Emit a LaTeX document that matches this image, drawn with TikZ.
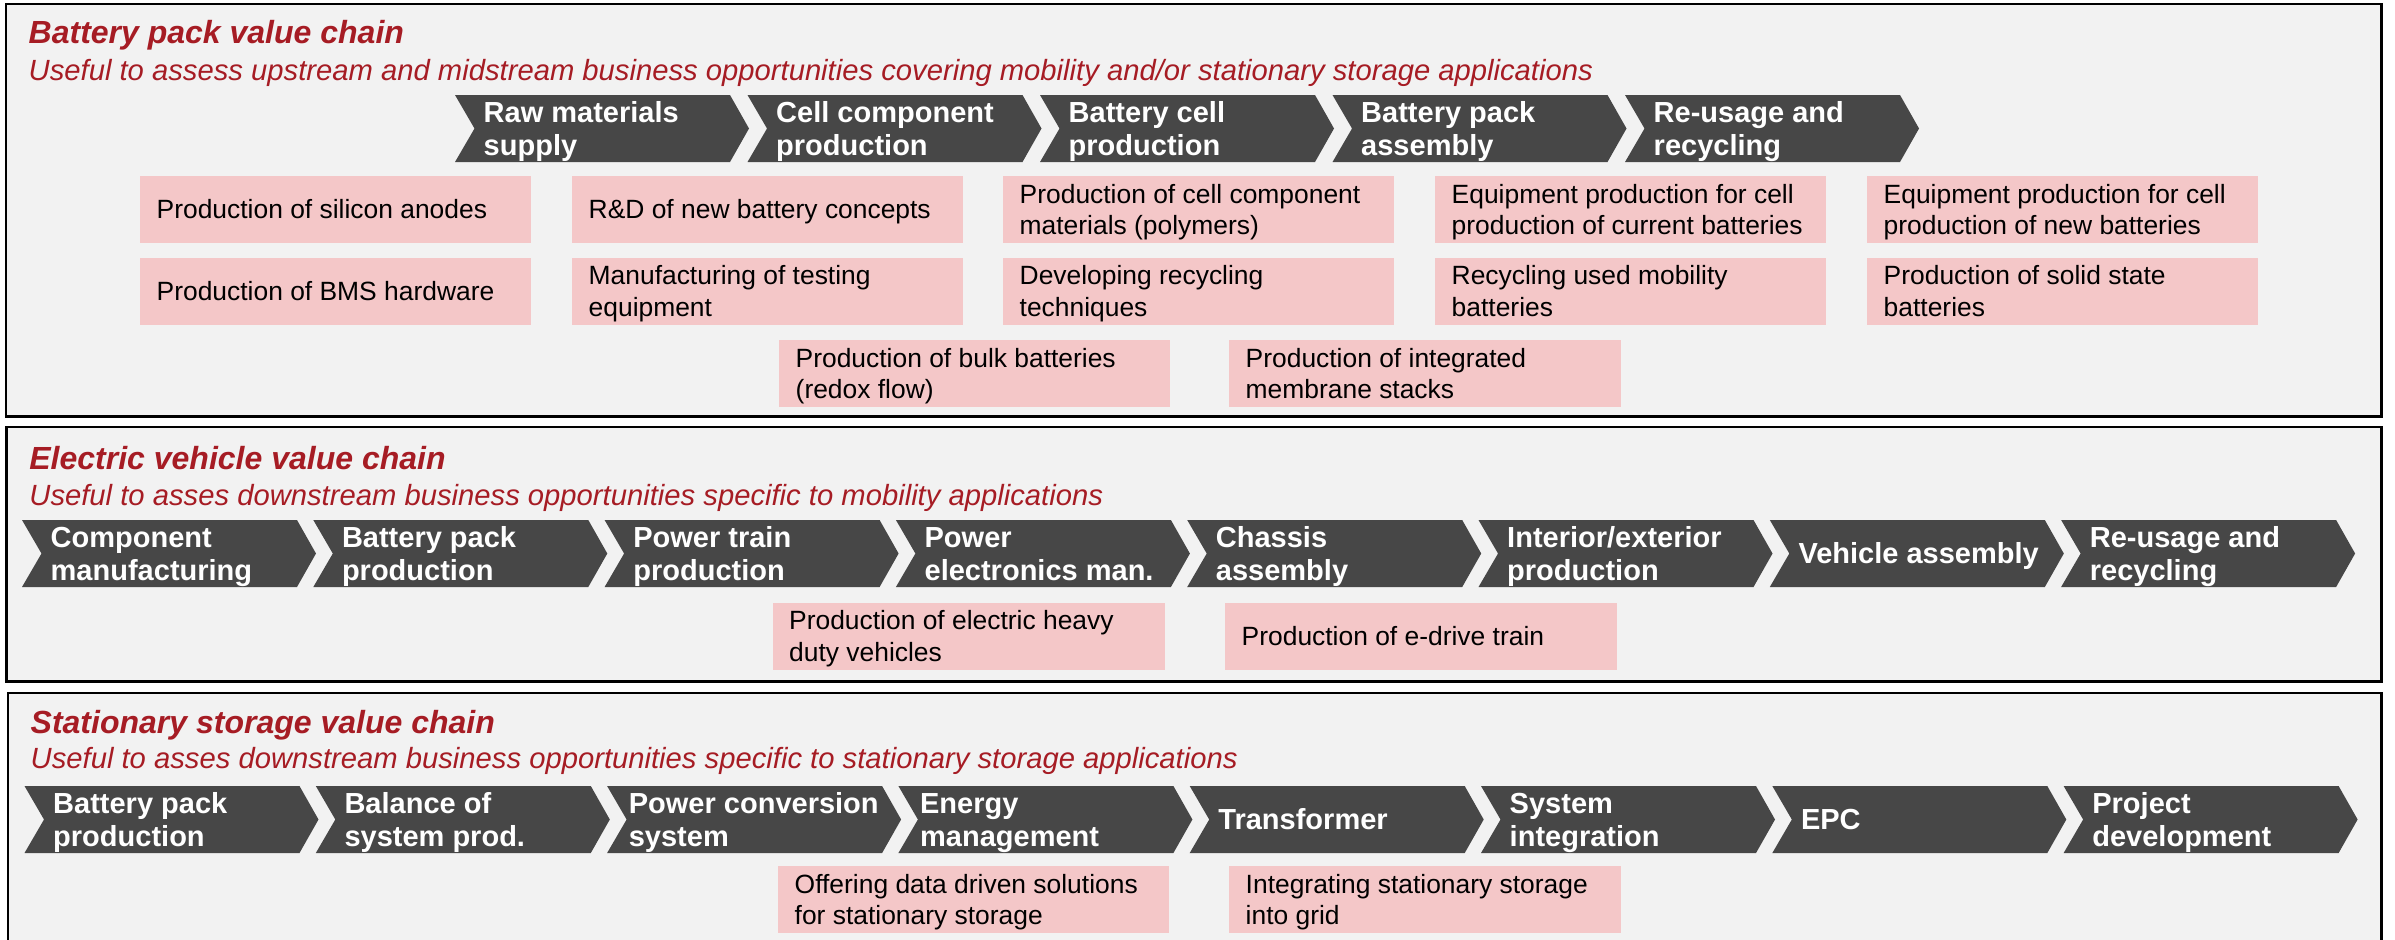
\documentclass[tikz,border=0pt]{standalone}
\usepackage{fontspec}
\setmainfont{Liberation Sans}
\definecolor{panelbg}{HTML}{F2F2F2}
\definecolor{chevgray}{HTML}{474747}
\definecolor{titlered}{HTML}{A61C24}
\definecolor{pinkbg}{HTML}{F4C7C8}
\newcommand\chevshape[2]{\fill[chevfill] (#1,#2) -- ++(275,0) -- ++(19,33.5) -- ++(-19,33.5) -- ++(-275,0) -- ++(19.5,-33.5) -- cycle;}
\newcommand\chevtwo[6]{\chevshape{#2}{#3}\node[chevtext] (#1) at (#2+#4,#3+27.25) {\begin{tabular}[t]{@{}l@{}}#5\\#6\end{tabular}};}
\newcommand\chevone[5]{\chevshape{#2}{#3}\node[chevtext] (#1) at (#2+#4,#3+43.9) {#5};}
\newcommand\pboxtwo[6]{\fill[pinkfill] (#2,#3) rectangle ++(#4,67);\node[boxtext] (#1) at (#2+16,#3+27.2) {\begin{tabular}[t]{@{}l@{}}#5\\#6\end{tabular}};}
\newcommand\pboxone[5]{\fill[pinkfill] (#2,#3) rectangle ++(#4,67);\node[boxtext] (#1) at (#2+16,#3+42.95) {#5};}
\begin{document}
\begin{tikzpicture}[x=0.01cm,y=-0.01cm,
  chevfill/.style={fill=chevgray},
  pinkfill/.style={fill=pinkbg},
  chevtext/.style={anchor=base west,inner sep=0pt,text=white,font=\bfseries\fontsize{8.25}{9.475}\selectfont},
  boxtext/.style={anchor=base west,inner sep=0pt,text=black,font=\fontsize{7.51}{8.963}\selectfont},
  paneltitle/.style={anchor=base west,inner sep=0pt,text=titlered,font=\bfseries\itshape\fontsize{9.1}{11}\selectfont},
  panelsub/.style={anchor=base west,inner sep=0pt,text=titlered,font=\itshape\fontsize{8.31}{10}\selectfont},
  panelframe/.style={draw=black,line width=0.77pt,fill=panelbg}]
\useasboundingbox (0,0) rectangle (2395,939);
\fill[white] (0,0) rectangle (2395,939);

% ---------- Panel 1 ----------
\draw[panelframe] (6,4) rectangle (2381.5,416.5);
\node[paneltitle] (t1) at (28,43) {Battery pack value chain};
\node[panelsub] (s1) at (28,80) {Useful to assess upstream and midstream business opportunities covering mobility and/or stationary storage applications};

\chevtwo{a1}{455}{95}{28}{Raw materials}{supply}
\chevtwo{a2}{747.5}{95}{28}{Cell component}{production}
\chevtwo{a3}{1040}{95}{28}{Battery cell}{production}
\chevtwo{a4}{1332.5}{95}{28}{Battery pack}{assembly}
\chevtwo{a5}{1625}{95}{28}{Re-usage and}{recycling}

\pboxone{pa1}{140}{176}{391}{Production of silicon anodes}
\pboxone{pa2}{572}{176}{391}{R\&D of new battery concepts}
\pboxtwo{pa3}{1003}{176}{391}{Production of cell component}{materials (polymers)}
\pboxtwo{pa4}{1435}{176}{391}{Equipment production for cell}{production of current batteries}
\pboxtwo{pa5}{1867}{176}{391}{Equipment production for cell}{production of new batteries}

\pboxone{pb1}{140}{257.5}{391}{Production of BMS hardware}
\pboxtwo{pb2}{572}{257.5}{391}{Manufacturing of testing}{equipment}
\pboxtwo{pb3}{1003}{257.5}{391}{Developing recycling}{techniques}
\pboxtwo{pb4}{1435}{257.5}{391}{Recycling used mobility}{batteries}
\pboxtwo{pb5}{1867}{257.5}{391}{Production of solid state}{batteries}

\pboxtwo{pc1}{779}{340}{391}{Production of bulk batteries}{(redox flow)}
\pboxtwo{pc2}{1229}{340}{392}{Production of integrated}{membrane stacks}

% ---------- Panel 2 ----------
\draw[panelframe] (6.5,427) rectangle (2381.5,681.5);
\node[paneltitle] (t2) at (28.7,469) {Electric vehicle value chain};
\node[panelsub] (s2) at (28.7,505.5) {Useful to asses downstream business opportunities specific to mobility applications};

\chevtwo{b1}{22}{520}{28}{Component}{manufacturing}
\chevtwo{b2}{313.3}{520}{28}{Battery pack}{production}
\chevtwo{b3}{604.6}{520}{28}{Power train}{production}
\chevtwo{b4}{895.9}{520}{28}{Power}{electronics man.}
\chevtwo{b5}{1187.2}{520}{28}{Chassis}{assembly}
\chevtwo{b6}{1478.5}{520}{28}{Interior/exterior}{production}
\chevone{b7}{1769.8}{520}{28}{Vehicle assembly}
\chevtwo{b8}{2061.1}{520}{28}{Re-usage and}{recycling}

\pboxtwo{pd1}{772.5}{602.5}{392.5}{Production of electric heavy}{duty vehicles}
\pboxone{pd2}{1225}{602.5}{392}{Production of e-drive train}

% ---------- Panel 3 ----------
\draw[panelframe] (8,693) rectangle (2381.5,960);
\node[paneltitle] (t3) at (30,733) {Stationary storage value chain};
\node[panelsub] (s3) at (30,768.5) {Useful to asses downstream business opportunities specific to stationary storage applications};

\chevtwo{c1}{24.5}{786}{28}{Battery pack}{production}
\chevtwo{c2}{315.8}{786}{28}{Balance of}{system prod.}
\chevtwo{c3}{607.1}{786}{21}{Power conversion}{system}
\chevtwo{c4}{898.4}{786}{21}{Energy}{management}
\chevone{c5}{1189.7}{786}{28}{Transformer}
\chevtwo{c6}{1481}{786}{28}{System}{integration}
\chevone{c7}{1772.3}{786}{28}{EPC}
\chevtwo{c8}{2063.6}{786}{28}{Project}{development}

\pboxtwo{pe1}{778}{866}{391}{Offering data driven solutions}{for stationary storage}
\pboxtwo{pe2}{1229}{866}{392}{Integrating stationary storage}{into grid}
\end{tikzpicture}
\end{document}
